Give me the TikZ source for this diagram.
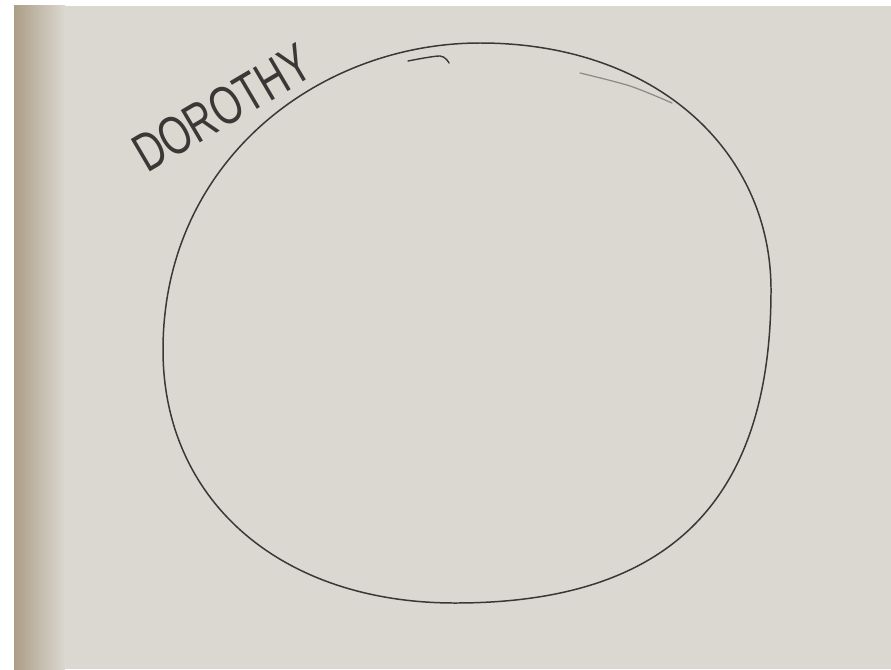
\documentclass[tikz,border=0pt]{standalone}
\usepackage{fontspec}
\setsansfont{Liberation Sans}
\definecolor{paper}{RGB}{219,216,209}
\definecolor{paperedge}{RGB}{172,158,134}
\definecolor{pencil}{RGB}{58,56,54}
\definecolor{faint}{RGB}{140,138,132}
\begin{document}
\begin{tikzpicture}[x=0.02cm, y=-0.02cm, line join=round, line cap=round]
\def \pagew{891}
\def \pageh{669}
\useasboundingbox (0,0) rectangle (\pagew,\pageh);
\fill[white] (0,0) rectangle (\pagew,\pageh);
\fill[paper] (14,6) rectangle (\pagew,\pageh);
\shade[left color=paperedge, right color=paper] (14,6) rectangle (65,\pageh);
% the circle, top -> right -> bottom -> left
\coordinate (top) at (480,43);
\coordinate (right) at (771,290);
\coordinate (bottom) at (455,603);
\coordinate (left) at (163,350);
\draw[pencil, line width=0.85pt] (top)
 .. controls (655,43) and (771,150) .. (right)
 .. controls (771,510) and (660,603) .. (bottom)
 .. controls (280,603) and (163,500) .. (left)
 .. controls (163,160) and (320,43) .. (top) -- cycle;
\draw[pencil, line width=0.8pt, smooth] plot coordinates {(408,61) (440,56) (449,63)};
\draw[faint, line width=0.7pt, smooth] plot coordinates {(580,73) (630,86) (672,103)};
\node[pencil, rotate=30.5, font=\sffamily\fontsize{31}{31}\selectfont] (name) at (222,108)
 {\scalebox{0.72}[1]{DOROTHY}};
\end{tikzpicture}
\end{document}
